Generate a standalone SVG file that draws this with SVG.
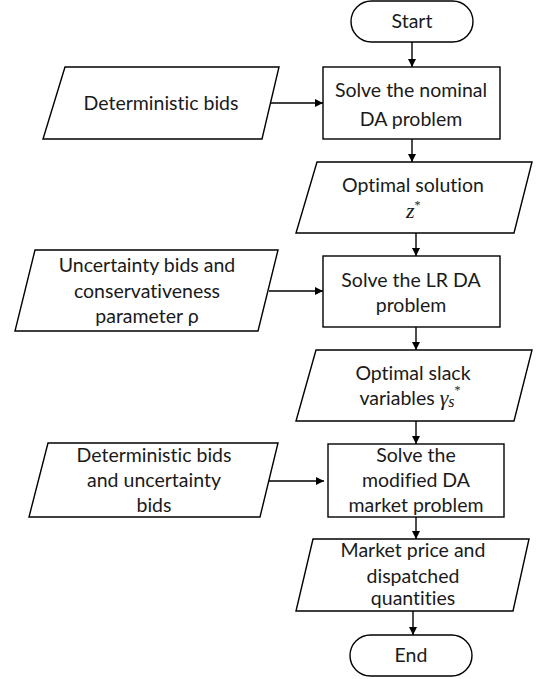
<svg xmlns="http://www.w3.org/2000/svg" width="536" height="679" viewBox="0 0 536 679">
<defs>
<marker id="ah" viewBox="0 0 10 10" refX="10" refY="5" markerWidth="8" markerHeight="8" markerUnits="userSpaceOnUse" orient="auto">
<path d="M0,0 L10,5 L0,10 Z" fill="#000"/>
</marker>
</defs>
<style>
.s{fill:#fff;stroke:#000;stroke-width:1.4}
.t{font-family:Lato,"Liberation Sans",sans-serif;font-size:19.5px;fill:#1a1a1a;text-anchor:middle;font-variant-ligatures:none}
.m{font-family:"Liberation Serif",serif;font-style:italic;font-size:22px;fill:#1a1a1a}
.c{stroke:#000;stroke-width:1.4;fill:none;marker-end:url(#ah)}
</style>
<rect width="536" height="679" fill="#fff"/>
<g id="connectors">
<line class="c" x1="412" y1="42" x2="412" y2="67"/>
<line class="c" x1="270" y1="103" x2="323" y2="103"/>
<line class="c" x1="412" y1="139" x2="412" y2="162"/>
<line class="c" x1="416" y1="233" x2="416" y2="256"/>
<line class="c" x1="269" y1="291" x2="323" y2="291"/>
<line class="c" x1="416" y1="327" x2="416" y2="350"/>
<line class="c" x1="416" y1="421" x2="416" y2="444"/>
<line class="c" x1="269" y1="481" x2="324" y2="481"/>
<line class="c" x1="416" y1="517" x2="416" y2="539"/>
<line class="c" x1="413" y1="611" x2="413" y2="635"/>
</g>
<g id="start">
<rect class="s" x="351" y="1" width="122" height="41" rx="20.5"/>
<text class="t" x="412" y="28">Start</text>
</g>
<g id="det-bids">
<polygon class="s" points="65,67 279,67 262,139 43,139"/>
<text class="t" x="161" y="110">Deterministic bids</text>
</g>
<g id="solve-nominal">
<rect class="s" x="323" y="67" width="177" height="72"/>
<text class="t" x="411" y="97">Solve the nominal</text>
<text class="t" x="411" y="126">DA problem</text>
</g>
<g id="opt-solution">
<polygon class="s" points="317,162 532,162 514,233 296,233"/>
<text class="t" x="413" y="192">Optimal solution</text>
<text class="m" x="406" y="218">z<tspan font-size="12" dy="-9" font-style="normal">*</tspan></text>
</g>
<g id="uncert-bids">
<polygon class="s" points="35,250 278,250 258,331 15,331"/>
<text class="t" x="147" y="272">Uncertainty bids and</text>
<text class="t" x="147" y="298">conservativeness</text>
<text class="t" x="147" y="323">parameter ρ</text>
</g>
<g id="solve-lr">
<rect class="s" x="323" y="256" width="177" height="71"/>
<text class="t" x="411" y="287">Solve the LR DA</text>
<text class="t" x="411" y="312">problem</text>
</g>
<g id="opt-slack">
<polygon class="s" points="316,350 532,350 514,421 296,421"/>
<text class="t" x="413" y="380">Optimal slack</text>
<text class="t" x="410" y="405">variables <tspan class="m">γ</tspan><tspan font-family="Liberation Serif" font-style="italic" font-size="16" dy="2">s</tspan><tspan font-family="Liberation Serif" font-size="12" dy="-13">*</tspan></text>
</g>
<g id="det-uncert-bids">
<polygon class="s" points="48,443 278,443 260,517 29,517"/>
<text class="t" x="154" y="462">Deterministic bids</text>
<text class="t" x="154" y="487">and uncertainty</text>
<text class="t" x="154" y="512">bids</text>
</g>
<g id="solve-modified">
<rect class="s" x="328" y="444" width="176" height="73"/>
<text class="t" x="416" y="462">Solve the</text>
<text class="t" x="416" y="487">modified DA</text>
<text class="t" x="416" y="512">market problem</text>
</g>
<g id="market-price">
<polygon class="s" points="313,539 529,539 513,611 296,611"/>
<text class="t" x="413" y="557">Market price and</text>
<text class="t" x="413" y="583">dispatched</text>
<text class="t" x="413" y="605">quantities</text>
</g>
<g id="end">
<rect class="s" x="350" y="635" width="122" height="41" rx="20.5"/>
<text class="t" x="411" y="662">End</text>
</g>
</svg>
